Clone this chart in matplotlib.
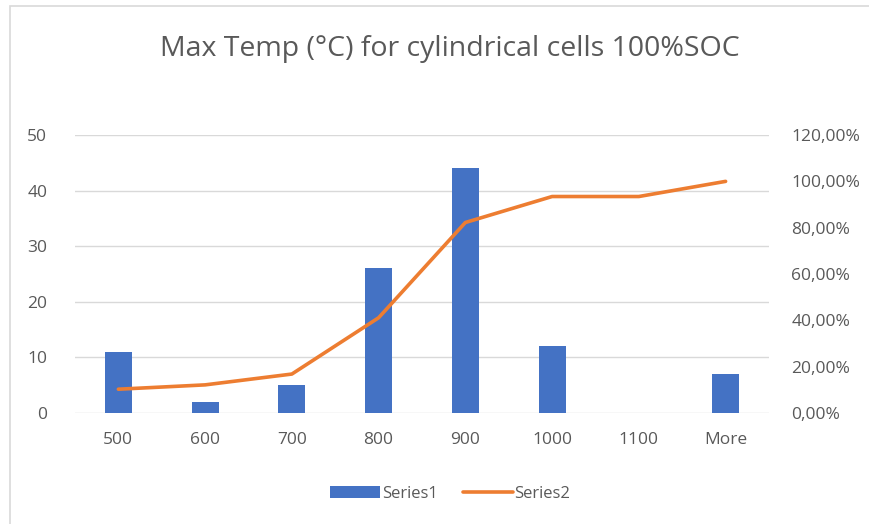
import matplotlib
matplotlib.use("Agg")
import matplotlib.pyplot as plt
from matplotlib.patches import Rectangle
from matplotlib.ticker import FuncFormatter

# histogram bins and counts
bins = ["500", "600", "700", "800", "900", "1000", "1100", "More"]
counts = [11, 2, 5, 26, 44, 12, 0, 7]
# cumulative share of cells, in percent
cumulative = [10.28, 12.15, 16.82, 41.12, 82.24, 93.46, 93.46, 100.0]

plt.rcParams['font.family'] = ['Open Sans', 'DejaVu Sans']
grey = '#595959'

fig = plt.figure(figsize=(8.69, 5.24), dpi=100)
ax = fig.add_axes([0.0863, 0.2118, 0.7986, 0.5305])
ax2 = ax.twinx()

x = range(len(bins))
bars = ax.bar(x, counts, width=0.31, color='#4472C4', label='Series1', zorder=3)
line, = ax2.plot(x, cumulative, color='#ED7D31', lw=2.6, label='Series2',
                 solid_capstyle='round', zorder=4)

ax.set_xlim(-0.5, len(bins) - 0.5)
ax.set_ylim(0, 50)
ax.set_yticks(range(0, 51, 10))
ax2.set_ylim(0, 120)
ax2.set_yticks(range(0, 121, 20))
ax2.yaxis.set_major_formatter(FuncFormatter(lambda v, p: f"{v:.2f}%".replace('.', ',')))

ax.set_xticks(list(x))
ax.set_xticklabels(bins)
ax.grid(axis='y', color='#d9d9d9', lw=1, zorder=0)

for a in (ax, ax2):
    for s in a.spines.values():
        s.set_visible(False)
    a.tick_params(length=0, colors=grey, labelsize=12.5)
ax.tick_params(axis='y', pad=20)
ax.tick_params(axis='x', pad=14)
ax2.tick_params(axis='y', pad=16)
ax2.patch.set_visible(False)

fig.text(0.518, 0.907, "Max Temp (°C) for cylindrical cells 100%SOC",
         ha='center', va='center', fontsize=20.5, color=grey)

fig.legend([bars, line], ['Series1', 'Series2'], loc='center', ncol=2,
           bbox_to_anchor=(0.518, 0.058), frameon=False, fontsize=12,
           labelcolor=grey, handlelength=3.0, handletextpad=0.1, columnspacing=1.5)

# chart frame
fig.patches.append(Rectangle((10 / 869, -0.1), 1.2, (524 - 6) / 524 + 0.1,
                             transform=fig.transFigure, fill=False,
                             edgecolor='#d9d9d9', lw=1.2))

fig.savefig("out.png", dpi=100, facecolor='white')
